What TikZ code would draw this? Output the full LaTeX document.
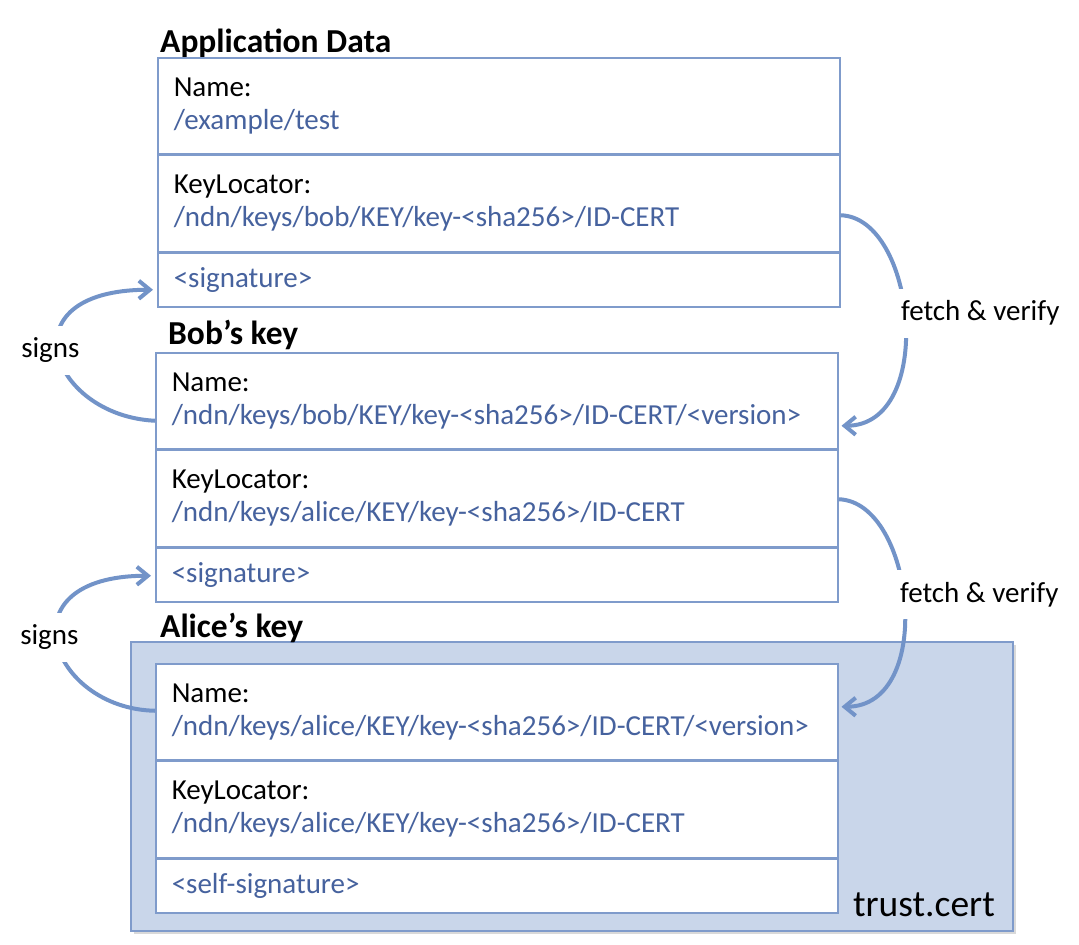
\documentclass[tikz,border=0pt]{standalone}
\usepackage{fontspec}
\setmainfont{Carlito}
\usetikzlibrary{arrows.meta, positioning, shadows}
\definecolor{frame}{RGB}{127,155,203}
\definecolor{pathblue}{RGB}{70,98,158}
\definecolor{arrowblue}{RGB}{114,147,200}
\definecolor{trustfill}{RGB}{201,214,234}

\begin{document}
\begin{tikzpicture}[x=1pt, y=-1pt,
		cell/.style={rectangle, draw=frame, line width=1.5pt, fill=white, minimum height=96pt,
			text width=650pt, inner xsep=16pt, inner ysep=0pt, align=left,
			font=\fontsize{29}{33}\selectfont},
		sigcell/.style={cell, minimum height=54pt},
		title/.style={anchor=base west, inner sep=0pt, font=\bfseries\fontsize{33.5}{38}\selectfont},
		flow/.style={draw=arrowblue, line width=4pt, -{Straight Barb[length=11pt,width=18pt]}},
		flowlabel/.style={fill=white, inner xsep=4pt, inner ysep=12pt, font=\fontsize{29}{33}\selectfont}
		]
		\useasboundingbox (0,0) rectangle (1079,945);

		\node[rectangle, draw=frame, line width=1.5pt, fill=trustfill, minimum width=882pt, minimum height=289pt,
		anchor=north west, drop shadow={shadow xshift=3pt, shadow yshift=-3pt, opacity=0.3}](trust) at (130,641){};
		\node[anchor=base east, inner sep=0pt, font=\fontsize{37.5}{42}\selectfont] (trustname) at (995,916){trust.cert};

		\node[title](appTitle) at (160,52){Application Data};
		\node[cell, anchor=north west](appName) at (157,57){Name:\\\textcolor{pathblue}{/example/test}};
		\node[cell, below=0pt of appName](appKL){KeyLocator:\\\textcolor{pathblue}{/ndn/keys/bob/KEY/key-<sha256>/ID-CERT}};
		\node[sigcell, below=0pt of appKL](appSig){\textcolor{pathblue}{<signature>}};

		\node[title](bobTitle) at (168,344){Bob’s key};
		\node[cell, anchor=north west](bobName) at (155,352){Name:\\\textcolor{pathblue}{/ndn/keys/bob/KEY/key-<sha256>/ID-CERT/<version>}};
		\node[cell, below=0pt of bobName](bobKL){KeyLocator:\\\textcolor{pathblue}{/ndn/keys/alice/KEY/key-<sha256>/ID-CERT}};
		\node[sigcell, below=0pt of bobKL](bobSig){\textcolor{pathblue}{<signature>}};

		\node[title](aliceTitle) at (160,637){Alice’s key};
		\node[cell, anchor=north west](aliceName) at (155,663){Name:\\\textcolor{pathblue}{/ndn/keys/alice/KEY/key-<sha256>/ID-CERT/<version>}};
		\node[cell, below=0pt of aliceName](aliceKL){KeyLocator:\\\textcolor{pathblue}{/ndn/keys/alice/KEY/key-<sha256>/ID-CERT}};
		\node[sigcell, below=0pt of aliceKL](aliceSig){\textcolor{pathblue}{<self-signature>}};

		\draw[flow] ([yshift=-12pt]appKL.east) .. controls +(76,2) and +(95,0) .. ([xshift=3pt, yshift=-25pt]bobName.east)
		node[pos=0.5, flowlabel, anchor=west, xshift=-10pt, yshift=8pt]{fetch \& verify};
		\draw[flow] ([yshift=-1pt]bobKL.east) .. controls +(76,2) and +(95,0) .. ([xshift=3pt, yshift=5pt]aliceName.east)
		node[pos=0.5, flowlabel, anchor=west, xshift=-10pt, yshift=9pt]{fetch \& verify};

		\draw[flow] ([yshift=-20pt]bobName.west) .. controls +(-105,-5) and +(-150,0) .. ([xshift=-4pt, yshift=-10pt]appSig.west)
		node[pos=0.5, flowlabel, xshift=-8pt, yshift=3pt]{signs};
		\draw[flow] ([yshift=1pt]aliceName.west) .. controls +(-105,-2) and +(-150,0) .. ([xshift=-4pt, yshift=-1pt]bobSig.west)
		node[pos=0.5, flowlabel, xshift=-8pt, yshift=5pt]{signs};

	\end{tikzpicture}
\end{document}
